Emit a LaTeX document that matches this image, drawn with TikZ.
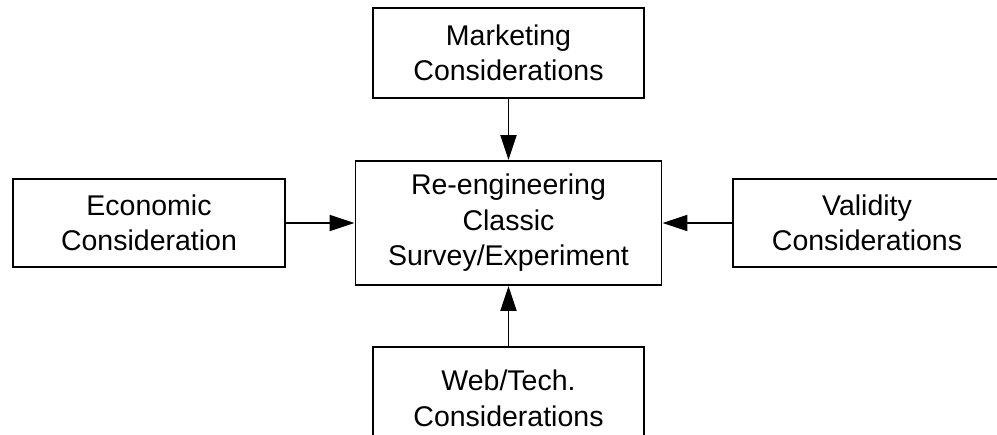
\documentclass[tikz,border=0pt]{standalone}
\usepackage{fontspec}
\setmainfont{Liberation Sans}
\usetikzlibrary{arrows.meta}
\begin{document}
\begin{tikzpicture}[x=1pt,y=-1pt,
  block/.style={draw=black, line width=1.9pt, fill=white, align=center, inner sep=0pt,
    font=\fontsize{28.5}{35.5}\selectfont},
  link/.style={line width=1.9pt, -{Triangle[length=25pt,width=16pt]}}]
\useasboundingbox (0,0) rectangle (997,435);
\begin{scope}
\clip (0,0) rectangle (997,435);
% factor boxes around the central study
\node[block, minimum width=271pt, minimum height=90pt]  (mkt)  at (508.5,53)    {Marketing\\Considerations};
\node[block, minimum width=306pt, minimum height=124pt] (core) at (508.5,223)   {Re-engineering\\Classic\\Survey/Experiment};
\node[block, minimum width=272pt, minimum height=88pt]  (econ) at (149,223)     {Economic\\Consideration};
\node[block, minimum width=268pt, minimum height=88pt]  (val)  at (867,223)     {Validity\\Considerations};
\node[block, minimum width=271pt, minimum height=103pt] (web)  at (508.5,398.5) {Web/Tech.\\Considerations};
% influences pointing into the central box
\draw[link] (mkt.south)  -- (core.north);
\draw[link] (econ.east)  -- (core.west);
\draw[link] (val.west)   -- (core.east);
\draw[link] (web.north)  -- (core.south);
\end{scope}
\end{tikzpicture}
\end{document}
